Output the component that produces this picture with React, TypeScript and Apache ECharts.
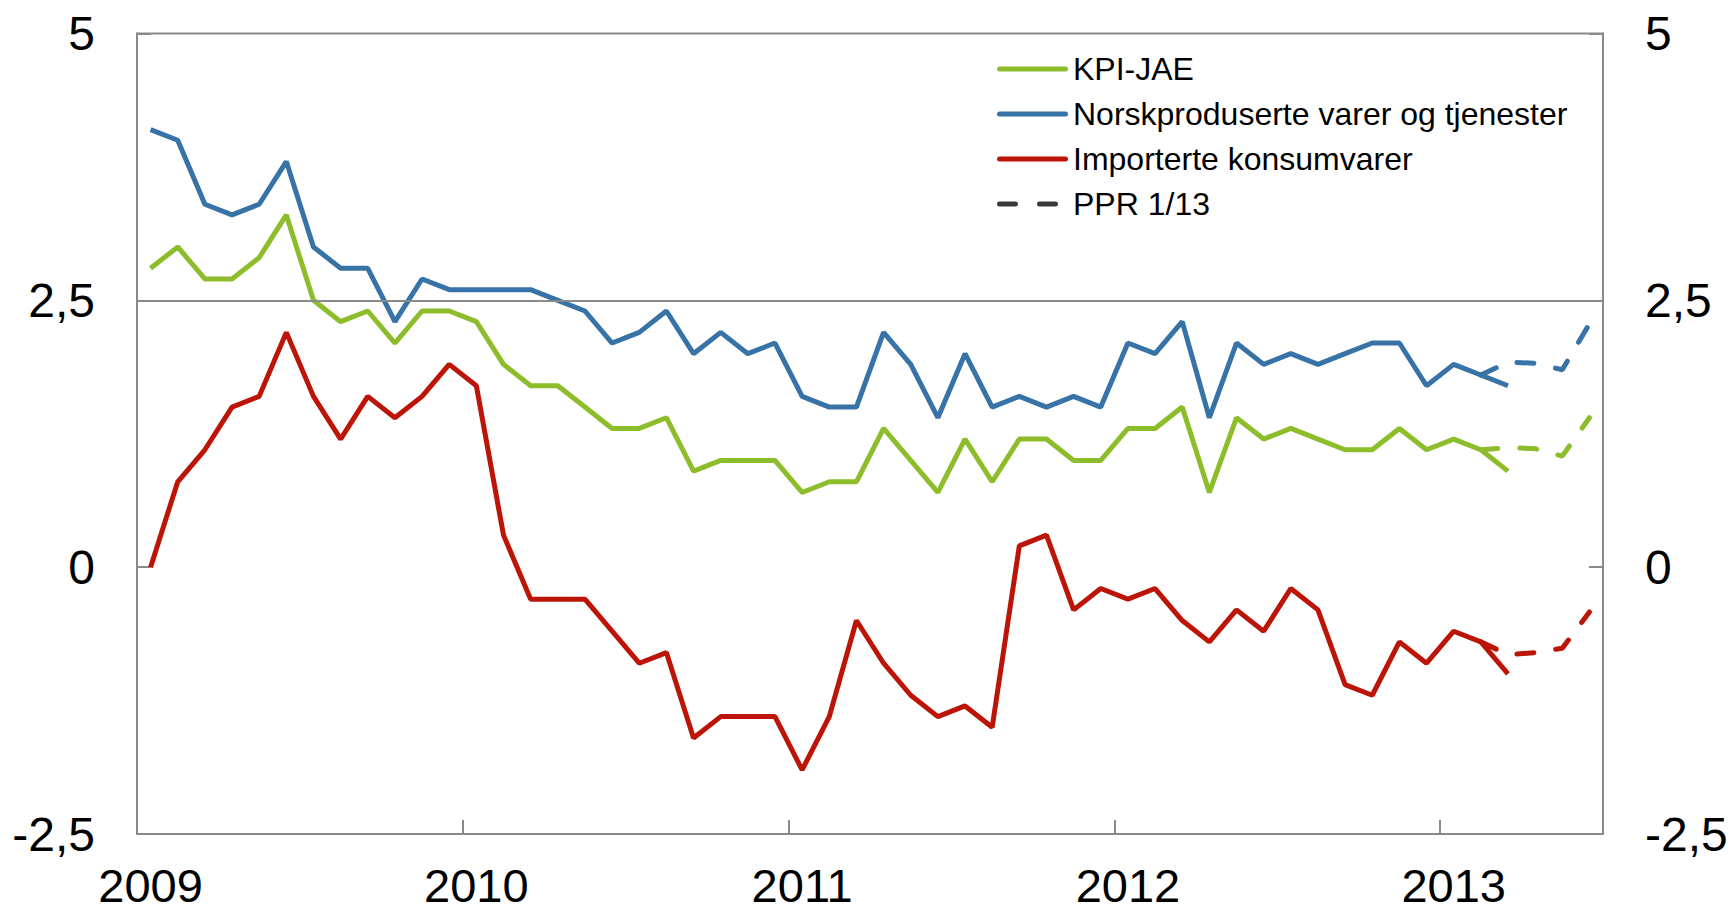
import React, { useEffect, useRef } from "react";
import * as echarts from "echarts";

const months: string[] = [
  "2009-01","2009-02","2009-03","2009-04","2009-05","2009-06","2009-07","2009-08","2009-09","2009-10","2009-11","2009-12",
  "2010-01","2010-02","2010-03","2010-04","2010-05","2010-06","2010-07","2010-08","2010-09","2010-10","2010-11","2010-12",
  "2011-01","2011-02","2011-03","2011-04","2011-05","2011-06","2011-07","2011-08","2011-09","2011-10","2011-11","2011-12",
  "2012-01","2012-02","2012-03","2012-04","2012-05","2012-06","2012-07","2012-08","2012-09","2012-10","2012-11","2012-12",
  "2013-01","2013-02","2013-03","2013-04","2013-05","2013-06",
];

// Actual values, Jan 2009 – Mar 2013
const kpiJae: number[] = [
  2.8, 3.0, 2.7, 2.7, 2.9, 3.3, 2.5, 2.3, 2.4, 2.1, 2.4, 2.4,
  2.3, 1.9, 1.7, 1.7, 1.5, 1.3, 1.3, 1.4, 0.9, 1.0, 1.0, 1.0,
  0.7, 0.8, 0.8, 1.3, 1.0, 0.7, 1.2, 0.8, 1.2, 1.2, 1.0, 1.0,
  1.3, 1.3, 1.5, 0.7, 1.4, 1.2, 1.3, 1.2, 1.1, 1.1, 1.3, 1.1,
  1.2, 1.1, 0.9,
];
const norsk: number[] = [
  4.1, 4.0, 3.4, 3.3, 3.4, 3.8, 3.0, 2.8, 2.8, 2.3, 2.7, 2.6,
  2.6, 2.6, 2.6, 2.5, 2.4, 2.1, 2.2, 2.4, 2.0, 2.2, 2.0, 2.1,
  1.6, 1.5, 1.5, 2.2, 1.9, 1.4, 2.0, 1.5, 1.6, 1.5, 1.6, 1.5,
  2.1, 2.0, 2.3, 1.4, 2.1, 1.9, 2.0, 1.9, 2.0, 2.1, 2.1, 1.7,
  1.9, 1.8, 1.7,
];
const importerte: number[] = [
  0.0, 0.8, 1.1, 1.5, 1.6, 2.2, 1.6, 1.2, 1.6, 1.4, 1.6, 1.9,
  1.7, 0.3, -0.3, -0.3, -0.3, -0.6, -0.9, -0.8, -1.6, -1.4, -1.4, -1.4,
  -1.9, -1.4, -0.5, -0.9, -1.2, -1.4, -1.3, -1.5, 0.2, 0.3, -0.4, -0.2,
  -0.3, -0.2, -0.5, -0.7, -0.4, -0.6, -0.2, -0.4, -1.1, -1.2, -0.7, -0.9,
  -0.6, -0.7, -1.0,
];

// PPR 1/13 projections, Feb 2013 – Jun 2013
const pprStartIndex = 49;
const pprKpiJae: number[] = [1.1, 1.12, 1.11, 1.04, 1.4];
const pprNorsk: number[] = [1.8, 1.92, 1.91, 1.85, 2.28];
const pprImporterte: number[] = [-0.7, -0.82, -0.8, -0.76, -0.42];

const yTicks: number[] = [-2.5, 0, 2.5, 5];
const targetLine = 2.5;

const GREEN = "#8dbd2b";
const BLUE = "#3873a7";
const RED = "#bd1408";
const DARK = "#3a3a3a";
const GRAY = "#8a8a8a";
const FONT = "'Liberation Sans', Arial, sans-serif";

const LW = 5;
const SOLID_ICON =
  "path://M2.5,0 H68.5 A2.5,2.5 0 0 1 68.5,5 H2.5 A2.5,2.5 0 0 1 2.5,0 Z";
const DASH_ICON =
  "path://M2.5,0 H18.5 A2.5,2.5 0 0 1 18.5,5 H2.5 A2.5,2.5 0 0 1 2.5,0 Z " +
  "M42.5,0 H58.5 A2.5,2.5 0 0 1 58.5,5 H42.5 A2.5,2.5 0 0 1 42.5,0 Z M71,0 L71,5 L71,0 Z";

function pad(values: number[]): (number | null)[] {
  const out: (number | null)[] = months.map(() => null);
  values.forEach((v, i) => (out[i] = v));
  return out;
}
function padProj(values: number[]): (number | null)[] {
  const out: (number | null)[] = months.map(() => null);
  values.forEach((v, i) => (out[pprStartIndex + i] = v));
  return out;
}

export default function App() {
  const ref = useRef<HTMLDivElement>(null);
  useEffect(() => {
    if (!ref.current) return;
    const chart = echarts.init(ref.current, undefined, { renderer: "svg" });
    const fmt = (v: number) => String(v).replace(".", ",");
    const yAxisBase = {
      type: "value",
      min: yTicks[0],
      max: yTicks[yTicks.length - 1],
      interval: 2.5,
      axisLine: { show: true, lineStyle: { color: GRAY, width: 2 } },
      axisTick: { show: true, inside: true, length: 14, lineStyle: { color: GRAY, width: 2 } },
      splitLine: { show: false },
      axisLabel: {
        color: "#000",
        fontSize: 48,
        fontFamily: FONT,
        margin: 42,
        formatter: fmt,
      },
    };
    const dashed = [17, 22];
    chart.setOption({
      animation: false,
      grid: {
        left: 137,
        right: 128,
        top: 33.5,
        bottom: 77,
        show: true,
        borderColor: GRAY,
        borderWidth: 2,
        backgroundColor: "transparent",
      },
      legend: {
        orient: "vertical",
        left: 997,
        top: 53,
        padding: 0,
        itemWidth: 71,
        itemHeight: 5,
        itemGap: 13,
        symbolKeepAspect: false,
        textStyle: { color: "#000", fontSize: 32, fontFamily: FONT, lineHeight: 32 },
        data: [
          { name: "KPI-JAE", icon: SOLID_ICON },
          { name: "Norskproduserte varer og tjenester", icon: SOLID_ICON },
          { name: "Importerte konsumvarer", icon: SOLID_ICON },
          { name: "PPR 1/13", icon: DASH_ICON },
        ],
      },
      xAxis: {
        type: "category",
        data: months,
        boundaryGap: true,
        axisLine: { show: true, onZero: false, lineStyle: { color: GRAY, width: 2 } },
        axisTick: { show: true, inside: true, length: 14, interval: 11, lineStyle: { color: GRAY, width: 2 } },
        axisLabel: {
          interval: 11,
          color: "#000",
          fontSize: 47,
          lineHeight: 38,
          fontFamily: FONT,
          margin: 32,
          formatter: (v: string) => v.slice(0, 4),
        },
        splitLine: { show: false },
      },
      yAxis: [
        { ...yAxisBase, position: "left" },
        { ...yAxisBase, position: "right" },
      ],
      series: [
        {
          name: "target",
          type: "line",
          data: [],
          silent: true,
          markLine: {
            silent: true,
            symbol: "none",
            label: { show: false },
            lineStyle: { color: GRAY, width: 2, type: "solid" },
            data: [{ yAxis: targetLine }],
          },
        },
        {
          name: "Importerte konsumvarer",
          type: "line",
          data: pad(importerte),
          symbol: "none",
          color: RED,
          lineStyle: { color: RED, width: LW },
        },
        {
          name: "Norskproduserte varer og tjenester",
          type: "line",
          data: pad(norsk),
          symbol: "none",
          color: BLUE,
          lineStyle: { color: BLUE, width: LW },
        },
        {
          name: "KPI-JAE",
          type: "line",
          data: pad(kpiJae),
          symbol: "none",
          color: GREEN,
          lineStyle: { color: GREEN, width: LW },
        },
        {
          name: "PPR 1/13",
          type: "line",
          data: [],
          symbol: "none",
          color: DARK,
          lineStyle: { color: DARK, width: LW, type: dashed, cap: "round" },
        },
        {
          name: "ppr-norsk",
          type: "line",
          data: padProj(pprNorsk),
          symbol: "none",
          lineStyle: { color: BLUE, width: LW, type: dashed, cap: "round" },
        },
        {
          name: "ppr-kpi",
          type: "line",
          data: padProj(pprKpiJae),
          symbol: "none",
          lineStyle: { color: GREEN, width: LW, type: dashed, cap: "round" },
        },
        {
          name: "ppr-imp",
          type: "line",
          data: padProj(pprImporterte),
          symbol: "none",
          lineStyle: { color: RED, width: LW, type: dashed, cap: "round" },
        },
      ],
    });
    return () => chart.dispose();
  }, []);
  return (
    <div
      ref={ref}
      style={{ position: "fixed", left: 0, top: 0, width: 1731, height: 911, background: "#fff" }}
    />
  );
}
